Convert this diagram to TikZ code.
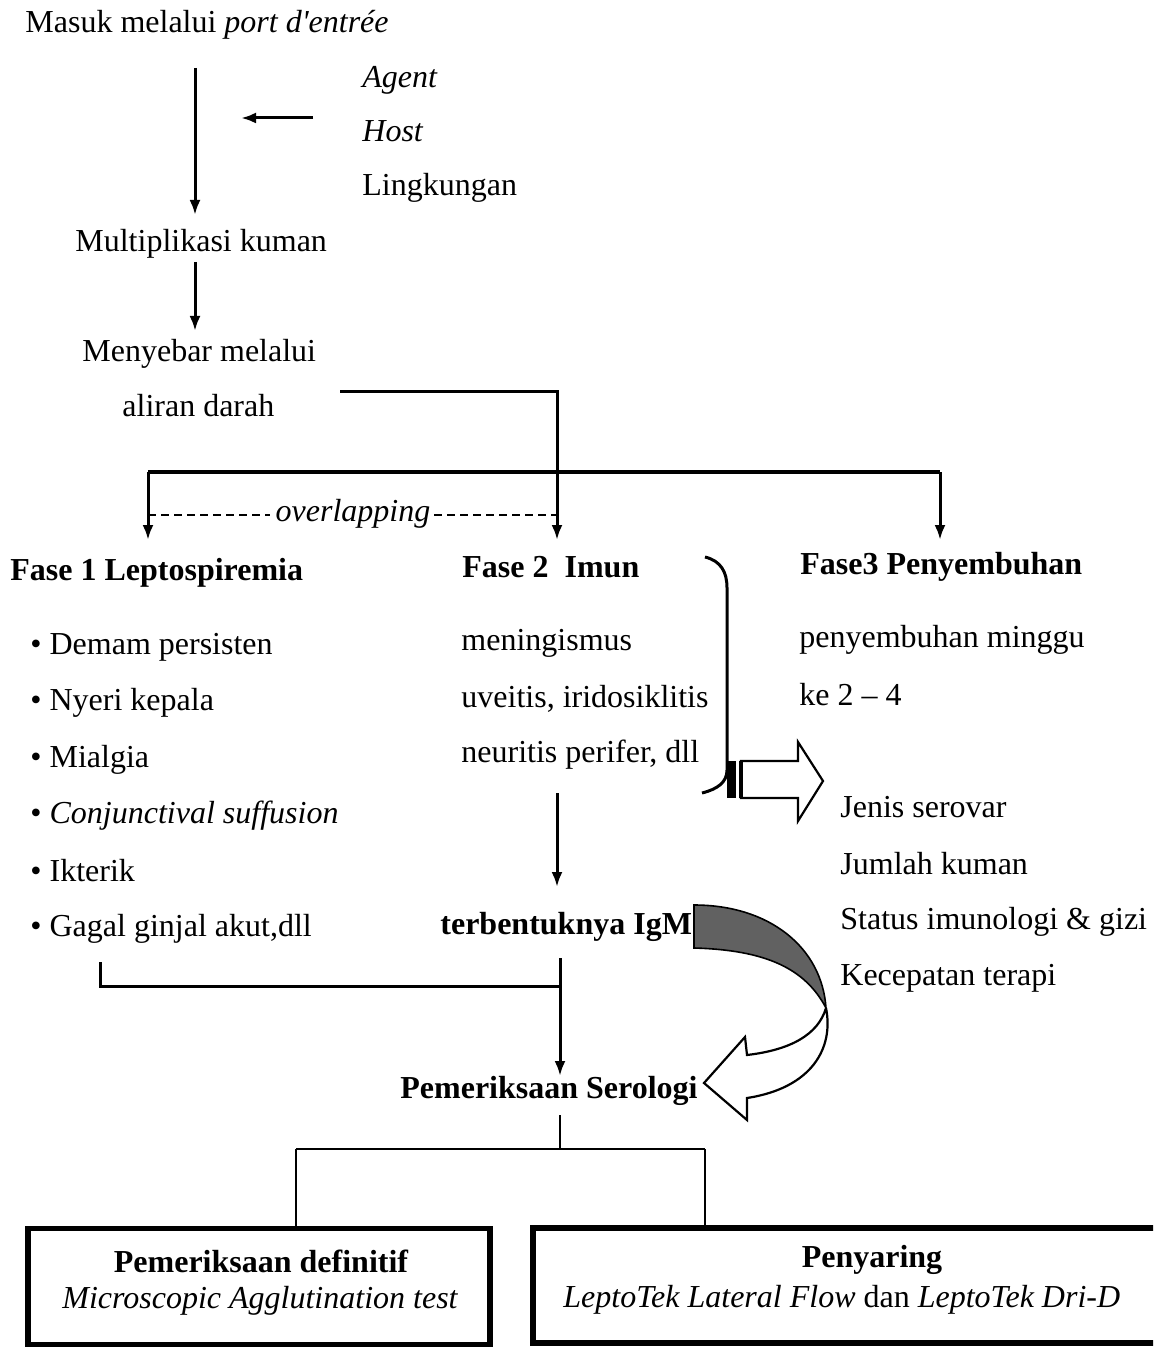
\documentclass[tikz,border=0pt]{standalone}
\usepackage{fontspec}
\setmainfont{Liberation Serif}
\usetikzlibrary{arrows.meta}
\begin{document}
\begin{tikzpicture}[x=0.5pt,y=-0.5pt,
  txt/.style={anchor=base west, inner sep=0pt, font=\fontsize{16}{19}\selectfont},
  btxt/.style={txt, font=\fontsize{16}{19}\selectfont\bfseries},
  ctxt/.style={anchor=base, inner sep=0pt, font=\fontsize{16}{19}\selectfont},
  ln/.style={line width=1.5pt},
  thinln/.style={line width=1pt},
  arr/.style={ln, -{Latex[length=7.5pt,width=5.5pt]}},
  dsh/.style={line width=1.2pt, dash pattern=on 4pt off 2.5pt},
  resbox/.style={draw, line width=2.6pt, inner sep=0pt}]
\useasboundingbox (0,0) rectangle (1153,1347);

% ---- top chain
\node[txt] (masuk) at (25,33) {Masuk melalui \textit{port d\textquotesingle entrée}};
\node[txt] (agent) at (362,88) {\textit{Agent}};
\node[txt] (host) at (362,142) {\textit{Host}};
\node[txt] (lingk) at (362,196) {Lingkungan};
\node[txt] (multi) at (75,252) {Multiplikasi kuman};
\node[txt] (menyebar) at (82,362) {Menyebar melalui};
\node[txt] (aliran) at (122,416) {aliran darah};

\coordinate (a1s) at (195,68);
\coordinate (a1e) at (195,215);
\draw[arr] (a1s) -- (a1e);
\draw[arr] (host.west |- 0,118) ++(-49,0) coordinate (h1) -- ++(-72,0) coordinate (h2);
\coordinate (a2s) at (195,262);
\coordinate (a2e) at (195,331);
\draw[arr] (a2s) -- (a2e);

% ---- phases
\node[btxt] (fase1) at (10,580) {Fase 1 Leptospiremia};
\node[btxt] (fase2) at (462,577) {Fase 2\ \ Imun};
\node[btxt] (fase3) at (800,574) {Fase3 Penyembuhan};

\coordinate (al) at (340,392);
\coordinate (ac) at (557,392);
\draw[arr] (al) -- (ac) -- (ac |- 0,540) coordinate (f2top);
\draw[ln, line width=1.8pt] (148,472) coordinate (hl) -- (940,472) coordinate (hr);
\draw[arr] (hl) -- (hl |- f2top);
\draw[arr] (hr) -- (hr |- f2top);
\draw[dsh] (148,515) -- (270,515);
\draw[dsh] (434,515) -- (557,515);
\node[inner sep=0pt, font=\fontsize{16}{19}\selectfont\itshape] (overl) at (353,514) {overlapping};

% ---- phase 1 list
\node[txt] (b1) at (30,654) {• Demam persisten};
\node[txt] (b2) at (30,710) {• Nyeri kepala};
\node[txt] (b3) at (30,767) {• Mialgia};
\node[txt] (b4) at (30,823) {• \textit{Conjunctival suffusion}};
\node[txt] (b5) at (30,881) {• Ikterik};
\node[txt] (b6) at (30,936) {• Gagal ginjal akut,dll};

% ---- phase 2 list
\node[txt] (m1) at (461,650) {meningismus};
\node[txt] (m2) at (461,707) {uveitis, iridosiklitis};
\node[txt] (m3) at (461,762) {neuritis perifer, dll};

% ---- phase 3
\node[txt] (p1) at (799,647) {penyembuhan minggu};
\node[txt] (p2) at (799,705) {ke 2 -- 4};

% ---- bracket and hollow arrow
\draw[ln] (705,557) .. controls (721,561) and (727,572) .. (727,588) -- (727,770)
   .. controls (727,782) and (718,789) .. (702,793);
\fill (727,761) rectangle (736,798);
\draw[line width=1.1pt, fill=white] (741,761) -- (798,761) -- (798,742) -- (823,781)
   -- (798,821) -- (798,798) -- (741,798) -- cycle;
\draw[line width=2pt] (741,761) -- (741,798);

\node[txt] (j1) at (840,817) {Jenis serovar};
\node[txt] (j2) at (840,874) {Jumlah kuman};
\node[txt] (j3) at (840,929) {Status imunologi \& gizi};
\node[txt] (j4) at (840,985) {Kecepatan terapi};

% ---- IgM and serologi
\coordinate (igs) at (557,793);
\coordinate (ige) at (557,887);
\draw[arr] (igs) -- (ige);
\node[btxt] (igm) at (440,934) {terbentuknya IgM};
\node[btxt] (sero) at (400,1098) {Pemeriksaan Serologi};

\coordinate (g1) at (100,962);
\coordinate (vs) at (560,958);
\draw[ln] (g1) -- (g1 |- 0,986) -- (vs |- 0,986);
\draw[arr] (vs) -- (vs |- 0,1076);

% ---- curved ribbon arrow
\fill[black!62, draw=black, line width=0.8pt] (694,905) .. controls (770,905) and (822,948) .. (826,1008)
   .. controls (805,968) and (765,950) .. (694,948) -- cycle;
\draw[line width=1.1pt, fill=white] (826,1008) .. controls (834,1048) and (812,1088) .. (747,1098)
   -- (747,1120) -- (704,1083) -- (745,1037) -- (747,1055)
   .. controls (790,1050) and (818,1035) .. (826,1008);

% ---- bottom
\coordinate (sv) at (560,1115);
\draw[thinln] (sv) -- (sv |- 0,1149) coordinate (sj);
\draw[thinln] (296,1149) coordinate (bl) -- (705,1149) coordinate (br);
\node[resbox, minimum width=231pt, minimum height=58pt] (defb) at (259,1286.5) {};
\node[ctxt, font=\fontsize{16}{19}\selectfont\bfseries] (deft1) at (261,1272) {Pemeriksaan definitif};
\node[ctxt, font=\fontsize{16}{19}\selectfont\itshape] (deft2) at (260,1308) {Microscopic Agglutination test};
\draw[thinln] (bl) -- (bl |- defb.north);
\begin{scope}
\clip (0,0) rectangle (1153,1347);
\node[resbox, minimum width=339pt, minimum height=57.5pt] (scrb) at (872,1285.5) {};
\end{scope}
\node[ctxt, font=\fontsize{16}{19}\selectfont\bfseries] (scrt1) at (872,1267) {Penyaring};
\node[txt] (scrt2) at (563,1307) {\textit{LeptoTek Lateral Flow} dan \textit{LeptoTek Dri-D}};
\draw[thinln] (br) -- (br |- scrb.north);
\end{tikzpicture}
\end{document}
